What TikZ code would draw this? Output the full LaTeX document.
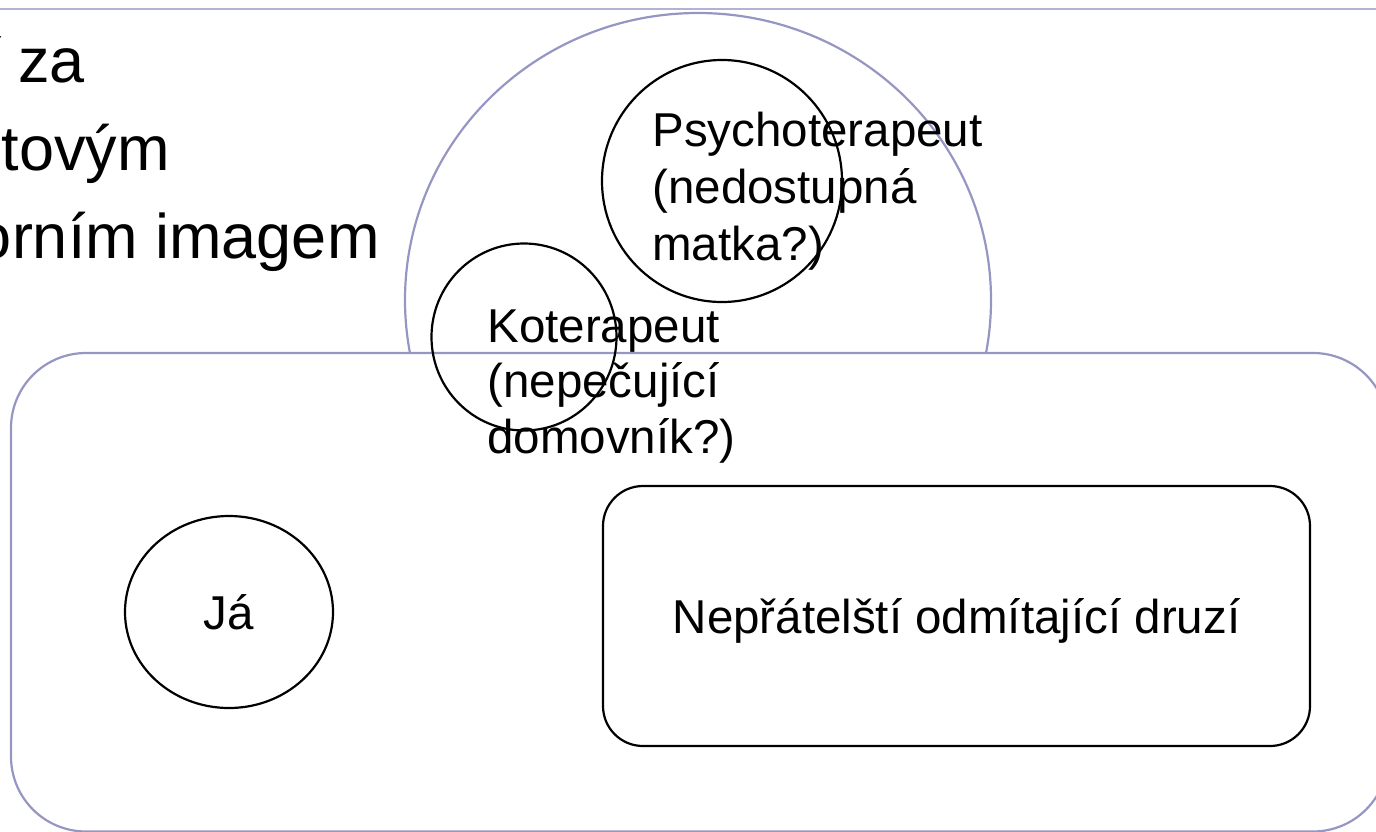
\documentclass[tikz,border=0pt]{standalone}
\usepackage{fontspec}
\setmainfont{Liberation Sans}
\usetikzlibrary{shapes.geometric}
\definecolor{lav}{RGB}{150,150,195}
\definecolor{lavlight}{RGB}{178,178,212}
\begin{document}
\begin{tikzpicture}[x=0.5pt,y=-0.5pt,
  lavline/.style={draw=lav,line width=1.1pt},
  blk/.style={draw=black,line width=1.1pt},
  oval/.style={blk,ellipse,inner sep=0pt},
  lbl/.style={font=\fontsize{23.75pt}{28pt}\selectfont,inner sep=0pt,anchor=base west},
  lblc/.style={font=\fontsize{23.75pt}{28pt}\selectfont,inner sep=0pt,anchor=base},
  big/.style={font=\fontsize{31.5pt}{38pt}\selectfont,inner sep=0pt,anchor=base east}]
\useasboundingbox (0,0) rectangle (1376,831);
\clip (0,0) rectangle (1376,831);
% top rule
\coordinate (ruleL) at (0,9);
\coordinate (ruleR) at (1376,9);
\draw[draw=lavlight,line width=1pt] (ruleL) -- (ruleR);
% cut-off slide text
\node[big] (t1) at (85,82) {ř za};
\node[big] (t2) at (170,170) {tovým};
\node[big] (t3) at (380,258) {orním imagem};
% big arc (upper part of a circle)
\begin{scope}
\clip (0,0) rectangle (1376,353);
\draw[lavline] (698,300) ellipse [x radius=293, y radius=287];
\end{scope}
% big rounded frame
\draw[lavline,rounded corners=37.5pt] (11,353) rectangle (1388,831.5);
% circles
\node[oval, minimum width=120pt, minimum height=121pt] (psy) at (722,181) {};
\node[oval, minimum width=92.5pt, minimum height=93.5pt] (kot) at (524,337) {};
\node[oval, minimum width=104pt, minimum height=96pt] (ja) at (229,612) {};
% box
\node[blk, rounded corners=20pt, minimum width=353.5pt, minimum height=130pt, inner sep=0pt] (nep) at (956.5,616) {};
% labels
\node[lbl] (psyA) at (652,146) {Psychoterapeut};
\node[lbl] (psyB) at (652,203) {(nedostupná};
\node[lbl] (psyC) at (652,260) {matka?)};
\node[lbl] (kotA) at (487,342) {Koterapeut};
\node[lbl] (kotB) at (487,397) {(nepečující};
\node[lbl] (kotC) at (487,453) {domovník?)};
\node[lblc] (jaT) at (ja.center) [yshift=-8.5pt] {Já};
\node[lblc] (nepT) at (nep.center) [yshift=-8.5pt] {Nepřátelští odmítající druzí};
\end{tikzpicture}
\end{document}
